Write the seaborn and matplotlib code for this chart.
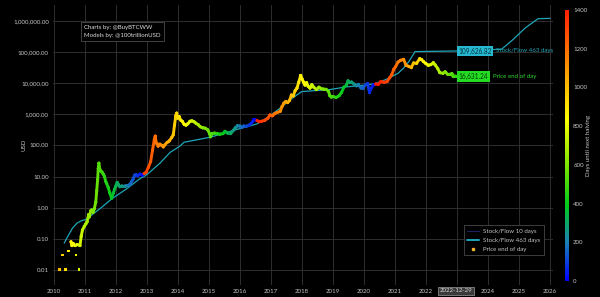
import numpy as np
import pandas as pd
import matplotlib
matplotlib.use("Agg")
import matplotlib.pyplot as plt
import seaborn as sns
from matplotlib.collections import LineCollection
from matplotlib.colors import LinearSegmentedColormap, Normalize
from matplotlib.cm import ScalarMappable
from matplotlib.lines import Line2D
from matplotlib.ticker import FuncFormatter, FixedLocator

# ---------------- data ----------------
halvings = [2012.908, 2016.52, 2020.36, 2024.30]

early_dot_years = [2010.19, 2010.28, 2010.37, 2010.46, 2010.71, 2010.81]
early_dot_price = [0.01, 0.03, 0.01, 0.04, 0.03, 0.01]

price_years = [
    2010.55, 2010.58, 2010.62, 2010.68, 2010.75, 2010.84, 2010.88, 2010.92, 2010.98,
    2011.03, 2011.07, 2011.12, 2011.14, 2011.19, 2011.22, 2011.26, 2011.30, 2011.35,
    2011.38, 2011.41, 2011.43, 2011.45, 2011.48, 2011.51, 2011.55, 2011.59, 2011.63,
    2011.67, 2011.70, 2011.75, 2011.80, 2011.86, 2011.92, 2011.96, 2012.00, 2012.04,
    2012.08, 2012.13, 2012.20, 2012.30, 2012.40, 2012.45, 2012.50, 2012.55, 2012.60,
    2012.65, 2012.70, 2012.78, 2012.85, 2012.91, 2012.97, 2013.05, 2013.12, 2013.18,
    2013.24, 2013.27, 2013.30, 2013.33, 2013.36, 2013.42, 2013.48, 2013.53, 2013.58,
    2013.65, 2013.72, 2013.80, 2013.85, 2013.89, 2013.93, 2013.96, 2013.99, 2014.04,
    2014.09, 2014.14, 2014.20, 2014.26, 2014.32, 2014.39, 2014.45, 2014.52, 2014.58,
    2014.66, 2014.72, 2014.80, 2014.88, 2014.96, 2015.02, 2015.05, 2015.10, 2015.18,
    2015.27, 2015.35, 2015.45, 2015.52, 2015.60, 2015.70, 2015.78, 2015.85, 2015.92,
    2016.00, 2016.05, 2016.12, 2016.20, 2016.30, 2016.38, 2016.45, 2016.50, 2016.55,
    2016.62, 2016.70, 2016.80, 2016.90, 2016.97, 2017.05, 2017.12, 2017.20, 2017.30,
    2017.36, 2017.42, 2017.48, 2017.54, 2017.60, 2017.66, 2017.72, 2017.78, 2017.84,
    2017.90, 2017.96, 2018.00, 2018.05, 2018.10, 2018.15, 2018.20, 2018.26, 2018.32,
    2018.38, 2018.47, 2018.55, 2018.62, 2018.70, 2018.78, 2018.86, 2018.90, 2018.95,
    2019.00, 2019.10, 2019.20, 2019.28, 2019.35, 2019.43, 2019.49, 2019.54, 2019.60,
    2019.68, 2019.76, 2019.82, 2019.90, 2019.97, 2020.05, 2020.12, 2020.18, 2020.22,
    2020.30, 2020.38, 2020.47, 2020.55, 2020.65, 2020.75, 2020.83, 2020.90, 2020.96,
    2021.02, 2021.10, 2021.18, 2021.28, 2021.36, 2021.45, 2021.53, 2021.60, 2021.70,
    2021.80, 2021.86, 2021.92, 2022.00, 2022.08, 2022.16, 2022.24, 2022.30, 2022.38,
    2022.45, 2022.55, 2022.62, 2022.70, 2022.78, 2022.84, 2022.88, 2022.93, 2022.99,
]
price_usd = [
    0.08, 0.06, 0.07, 0.06, 0.065, 0.06, 0.12, 0.19, 0.25,
    0.3, 0.35, 0.6, 0.5, 0.8, 0.84, 0.7, 0.9, 1.5,
    3.5, 8, 18, 27, 17, 15, 14, 12, 10,
    7, 6, 4.5, 3, 2.0, 3, 4, 5, 6.5,
    5.5, 4.7, 5.0, 5.0, 5.2, 5.5, 6.8, 8, 11,
    11.5, 10.5, 12, 11, 12.5, 13.5, 20, 30, 70,
    160, 200, 120, 115, 95, 110, 100, 90, 105,
    125, 140, 180, 220, 450, 900, 1100, 750, 850,
    650, 600, 480, 450, 500, 600, 620, 580, 520,
    460, 400, 370, 360, 320, 240, 190, 240, 250,
    240, 230, 240, 285, 250, 240, 300, 370, 430,
    420, 380, 420, 415, 450, 530, 680, 660, 640,
    580, 600, 640, 750, 960, 900, 1050, 1150, 1250,
    1800, 2300, 2600, 2400, 2800, 4200, 3900, 5800, 7000,
    11000, 18000, 14000, 11000, 8800, 10500, 8000, 7000, 9000,
    7500, 6300, 7500, 6700, 6500, 6400, 5500, 4000, 3600,
    3800, 3500, 4000, 5100, 7500, 8500, 12000, 10500, 11000,
    9500, 8300, 9200, 7200, 7200, 9000, 9800, 5000, 6500,
    8800, 9500, 9300, 11500, 10700, 11500, 15000, 19000, 28000,
    34000, 48000, 55000, 59000, 38000, 35000, 32000, 45000, 44000,
    62000, 58000, 50000, 43000, 38000, 40000, 46000, 39000, 30000,
    22000, 21000, 23500, 19500, 19500, 20500, 16500, 17000, 16631.24,
]

s2f_years = [
    2010.33, 2010.45, 2010.60, 2010.75, 2010.89, 2011.05, 2011.22, 2011.50, 2011.86,
    2012.34, 2012.77, 2012.94, 2013.10, 2013.42, 2013.75, 2014.06, 2014.20, 2015.05,
    2016.00, 2016.54, 2016.90, 2017.29, 2017.61, 2017.99, 2018.90, 2019.44, 2020.09,
    2020.36, 2020.72, 2021.10, 2021.27, 2021.45, 2021.65, 2022.99, 2024.44, 2024.80,
    2025.20, 2025.62, 2026.00,
]
s2f_usd = [
    0.072, 0.12, 0.22, 0.32, 0.38, 0.42, 0.58, 0.95, 1.9,
    4.0, 8.5, 10.5, 14, 27, 60, 95, 127, 185,
    350, 490, 800, 1570, 2900, 5400, 6300, 7700, 8800,
    9800, 13400, 21000, 30000, 50000, 105000, 109626.82, 125000, 250000,
    600000, 1200000, 1230000,
]

x_ticks = list(range(2010, 2027))
y_ticks = [0.01, 0.1, 1, 10, 100, 1000, 10000, 100000, 1000000]
cbar_ticks = [0, 200, 400, 600, 800, 1000, 1200, 1400]
end_date_label = "2022-12-29"
end_year = 2022.99

# ---------------- styling ----------------
sns.set_theme(style="dark")
plt.rcParams["font.family"] = ["Lato", "DejaVu Sans"]
plt.rcParams["axes.unicode_minus"] = False

GREY = "#c4c4c4"
TEAL = "#1ea6b8"
FS = 4.4

cmap = LinearSegmentedColormap.from_list(
    "halving",
    [(0.0, (0.0, 0.0, 1.0)),
     (0.14, (0.10, 0.50, 0.72)),
     (0.28, (0.0, 0.80, 0.10)),
     (0.43, (0.50, 0.90, 0.0)),
     (0.60, (1.0, 1.0, 0.0)),
     (0.80, (1.0, 0.55, 0.0)),
     (1.0, (1.0, 0.12, 0.0))],
)
norm = Normalize(0, 1400)


def days_until_halving(y):
    nxt = min(h for h in halvings if h > y)
    return (nxt - y) * 365.25


price = pd.DataFrame({"year": price_years, "usd": price_usd})
price["days"] = [days_until_halving(y) for y in price["year"]]
dots = pd.DataFrame({"year": early_dot_years, "usd": early_dot_price})
dots["days"] = [days_until_halving(y) for y in dots["year"]]
s2f = pd.DataFrame({"year": s2f_years, "usd": s2f_usd})

W, H = 600, 297
fig = plt.figure(figsize=(6, 2.97), dpi=100, facecolor="black")


def px(x, y):
    return x / W, 1 - y / H


ax = fig.add_axes([53 / W, 1 - 285 / H, 500 / W, 280 / H])
ax.set_facecolor("black")
ax.set_yscale("log")
ax.set_xlim(2009.97, 2026.10)
ax.set_ylim(10 ** -2.49, 10 ** 6.52)

# grid
ax.grid(True, color="#2e2e2e", lw=0.7)
for s in ax.spines.values():
    s.set_visible(False)

# stock-to-flow model line
sns.lineplot(data=s2f, x="year", y="usd", ax=ax, color=TEAL, lw=0.9,
             estimator=None, sort=False, zorder=3)

# price line coloured by days until next halving
pts = np.column_stack([price["year"].to_numpy(), price["usd"].to_numpy()])
segs = np.stack([pts[:-1], pts[1:]], axis=1)
lc = LineCollection(segs, cmap=cmap, norm=norm, linewidths=2.1, zorder=4,
                    capstyle="round", joinstyle="round")
lc.set_array(price["days"].to_numpy()[:-1])
ax.add_collection(lc)
sns.scatterplot(data=price, x="year", y="usd", hue="days", palette=cmap,
                hue_norm=norm, s=5, linewidth=0, legend=False, ax=ax, zorder=5)
sns.scatterplot(data=dots, x="year", y="usd", hue="days", palette=cmap,
                hue_norm=norm, s=4, linewidth=0, marker="s", legend=False,
                ax=ax, zorder=5)

# ticks (the 2023 label is hidden under the date box, as in the reference)
ax.xaxis.set_major_locator(FixedLocator(x_ticks))
ax.yaxis.set_major_locator(FixedLocator(y_ticks))
ax.yaxis.set_minor_locator(FixedLocator([]))
ax.yaxis.set_major_formatter(FuncFormatter(lambda v, p: f"{v:,.2f}"))
ax.xaxis.set_major_formatter(
    FuncFormatter(lambda v, p: "" if int(round(v)) == 2023 else f"{int(round(v))}"))
ax.tick_params(axis="both", length=0, labelsize=FS, colors=GREY, pad=3)
ax.set_xlabel("")
ax.set_ylabel("USD", color=GREY, fontsize=FS)
ax.yaxis.set_label_coords(-0.052, 0.5)

# end-of-series labels
ax.text(2023.05, s2f_usd[s2f_years.index(end_year)], "109,626.82", fontsize=FS + 0.3,
        color="#06323a", va="center", ha="left", zorder=8,
        bbox=dict(boxstyle="square,pad=0.25", fc="#25b8d0", ec="none"))
ax.text(2024.27, s2f_usd[s2f_years.index(end_year)], "Stock/Flow 463 days",
        fontsize=FS, color=TEAL, va="center", ha="left", zorder=8)
ax.text(2023.05, price_usd[-1], "16,631.24", fontsize=FS + 0.3, color="#063a06",
        va="center", ha="left", zorder=8,
        bbox=dict(boxstyle="square,pad=0.25", fc="#22dd22", ec="none"))
ax.text(2024.17, price_usd[-1], "Price end of day", fontsize=FS,
        color="#2ed62e", va="center", ha="left", zorder=8)

# date box over the x axis
fig.text(*px(456, 291), end_date_label, fontsize=FS, color="#d8d8d8",
         ha="center", va="center", zorder=10,
         bbox=dict(boxstyle="square,pad=0.25", fc="#3a3a3a", ec="#9a9a9a", lw=0.5))

# credits box
fig.text(*px(84, 31.5), "Charts by: @BuyBTCWW\nModels by: @100trillionUSD",
         fontsize=FS, color="#dcdcdc", ha="left", va="center", linespacing=1.5,
         bbox=dict(boxstyle="square,pad=0.5", fc="black", ec="#5a5a5a", lw=0.5))

# legend
handles = [
    Line2D([], [], color="#1c2460", lw=0.8),
    Line2D([], [], color=TEAL, lw=1.4),
    Line2D([], [], color="#f0b030", marker="s", ms=1.6, ls="none"),
]
labels = ["Stock/Flow 10 days", "Stock/Flow 463 days", "Price end of day"]
leg = ax.legend(handles, labels, loc="lower left", bbox_to_anchor=(0.815, 0.095),
                fontsize=FS, labelcolor=GREY, facecolor="black", edgecolor="#555555",
                framealpha=1, fancybox=False, handlelength=2.0, borderpad=0.6,
                labelspacing=0.6, handletextpad=0.6)
leg.get_frame().set_linewidth(0.5)

# colorbar
cax = fig.add_axes([565 / W, 1 - 281 / H, 4 / W, 271 / H])
cb = fig.colorbar(ScalarMappable(norm=norm, cmap=cmap), cax=cax)
cb.outline.set_visible(False)
cb.set_ticks(cbar_ticks)
cb.ax.tick_params(length=0, labelsize=FS, colors=GREY, pad=3)
cb.set_label("Days until next halving", color=GREY, fontsize=FS)
cb.ax.yaxis.set_label_coords(5.2, 0.5)

fig.savefig("out.png", dpi=100, facecolor="black")
